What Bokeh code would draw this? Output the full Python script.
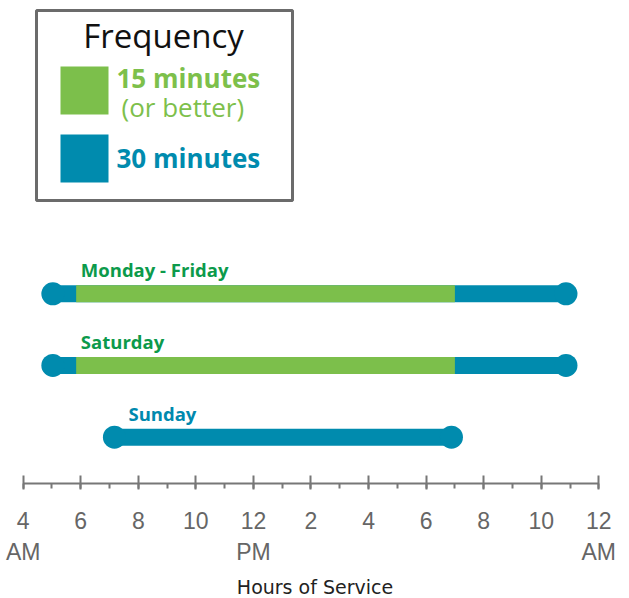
from bokeh.plotting import figure
from bokeh.layouts import column
from bokeh.models import Range1d, FixedTicker, ColumnDataSource
from bokeh.core.properties import value
from bokeh.embed import file_html
from bokeh.resources import INLINE

# ---------------- data ----------------
days = ["Monday - Friday", "Saturday", "Sunday"]
rows = [0, 1, 2]
service_start = [5.03, 5.03, 7.17]      # hours (24h clock)
service_end = [22.86, 22.86, 18.88]
freq15_start = [5.84, 5.84]              # 15-minute service window (Mon-Fri, Sat)
freq15_end = [19.0, 19.0]
freq15_rows = [0, 1]
label_colors = ["#0c9a4b", "#0c9a4b", "#0089ae"]
label_offsets = [28, 28, 14]

tick_values = [4, 6, 8, 10, 12, 14, 16, 18, 20, 22, 24]
tick_labels = ["4\nAM", "6", "8", "10", "12\nPM", "2", "4", "6", "8", "10", "12\nAM"]
minor_ticks = list(range(4, 25))

legend_labels = ["15 minutes", "30 minutes"]
legend_note = ["(or better)"]

GREEN = "#7cbf4b"
BLUE = "#008bae"

# ---------------- legend panel ----------------
leg = figure(width=629, height=204, output_backend="svg", toolbar_location=None,
             x_range=Range1d(0, 629), y_range=Range1d(204, 0),
             x_axis_location=None, y_axis_location=None,
             min_border=0, outline_line_color=None)
leg.grid.visible = False
leg.quad(left=[36], right=[292], top=[10], bottom=[200], fill_color=None,
         line_color="#6b6b6b", line_width=3)
leg.quad(left=[60, 60], right=[108, 108], top=[66, 134], bottom=[114, 182],
         fill_color=[GREEN, BLUE], line_color=None)
leg.text(x=[163], y=[35], text=["Frequency"], text_align="center", text_baseline="middle",
         text_font=value("Open Sans"), text_font_size="33px", text_color="#111111")
leg.text(x=[116, 116], y=[77, 157], text=legend_labels,
         text_align="left", text_baseline="middle", text_font=value("Open Sans"),
         text_font_style="bold", text_font_size="26px", text_color=["#7dc04b", BLUE])
leg.text(x=[121], y=[106], text=legend_note, text_align="left", text_baseline="middle",
         text_font=value("Open Sans"), text_font_size="26px", text_color="#7dc04b")

# ---------------- chart ----------------
p = figure(width=629, frame_height=279, output_backend="svg", toolbar_location=None,
           x_range=Range1d(3.211, 25.067), y_range=Range1d(2.646, -1.245),
           y_axis_location=None, min_border_left=0, min_border_right=0,
           min_border_top=0, min_border_bottom=0, outline_line_color=None)
p.grid.visible = False

src = ColumnDataSource(dict(day=days, row=rows, s=service_start, e=service_end,
                            c=label_colors, off=label_offsets))
p.segment(x0="s", y0="row", x1="e", y1="row", source=src, line_color=BLUE,
          line_width=17, line_cap="butt")
p.segment(x0=freq15_start, y0=freq15_rows, x1=freq15_end, y1=freq15_rows,
          line_color=GREEN, line_width=17, line_cap="butt")
p.scatter(x="s", y="row", source=src, size=23, fill_color=BLUE, line_color=None)
p.scatter(x="e", y="row", source=src, size=23, fill_color=BLUE, line_color=None)
p.text(x="s", y="row", text="day", source=src, x_offset="off", y_offset=-24,
       text_align="left", text_baseline="middle", text_font=value("Open Sans"),
       text_font_style="bold", text_font_size="18.5px", text_color="c")

ax = p.xaxis[0]
ax.bounds = (tick_values[0], tick_values[-1])
ax.ticker = FixedTicker(ticks=tick_values, minor_ticks=minor_ticks)
ax.major_label_overrides = {v: l for v, l in zip(tick_values, tick_labels)}
ax.axis_line_color = "#777777"
ax.axis_line_width = 2
ax.major_tick_line_color = "#777777"
ax.major_tick_line_width = 2
ax.major_tick_in = 8
ax.major_tick_out = 6
ax.minor_tick_line_color = "#777777"
ax.minor_tick_line_width = 2
ax.minor_tick_in = 0
ax.minor_tick_out = 5
ax.major_label_text_font = "Liberation Sans"
ax.major_label_text_font_size = "23px"
ax.major_label_text_color = "#666666"
ax.major_label_standoff = 18
ax.axis_label = "Hours of Service"
ax.axis_label_text_font = "DejaVu Sans"
ax.axis_label_text_font_style = "normal"
ax.axis_label_text_font_size = "19px"
ax.axis_label_text_color = "#222222"
ax.axis_label_standoff = 8

layout = column(leg, p, spacing=0)
open("out.html", "w").write(file_html(layout, INLINE))
